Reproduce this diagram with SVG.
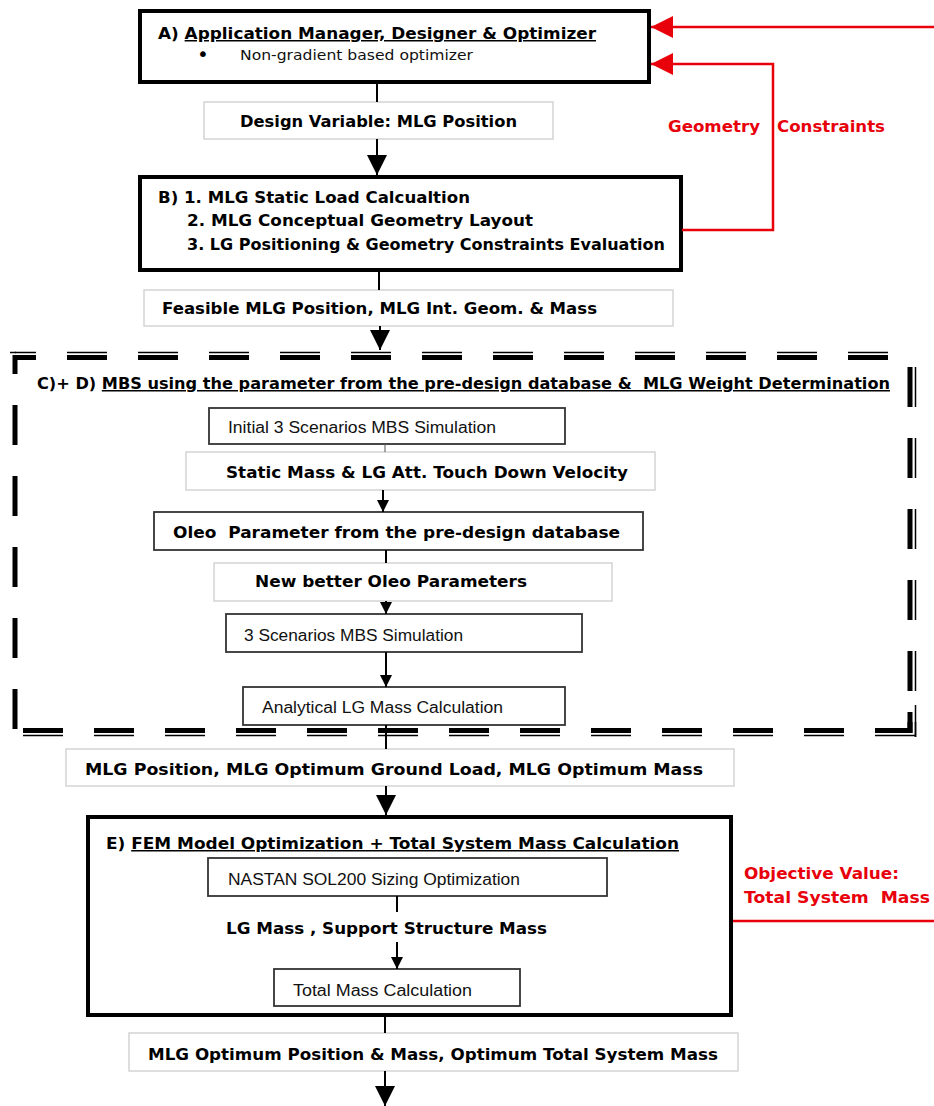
<svg xmlns="http://www.w3.org/2000/svg" width="934" height="1106" viewBox="0 0 934 1106">
<style>
.b{font-family:"DejaVu Sans","Liberation Sans",sans-serif;font-weight:bold;font-size:15px;fill:#000}
.r{font-family:"Liberation Sans","DejaVu Sans",sans-serif;font-size:16px;fill:#111}
.red{fill:#e8000b}
.thick{fill:#fff;stroke:#000;stroke-width:4}
.light{fill:#fff;stroke:#d4d4d4;stroke-width:1.5}
.dark{fill:#fff;stroke:#333;stroke-width:1.8}
.con{stroke:#000;stroke-width:2;fill:none}
.rcon{stroke:#e8000b;stroke-width:2.5;fill:none}
.dT{stroke:#000;stroke-width:5;stroke-dasharray:40 31;fill:none}
.dt{stroke:#000;stroke-width:1.5;stroke-dasharray:40 31;fill:none}
</style>
<defs>
<marker id="big" markerUnits="userSpaceOnUse" markerWidth="20" markerHeight="20" refX="20" refY="10" orient="auto"><path d="M0,0 L20,10 L0,20 z" fill="#000"/></marker>
<marker id="sm" markerUnits="userSpaceOnUse" markerWidth="12" markerHeight="12" refX="12" refY="6" orient="auto"><path d="M0,0 L12,6 L0,12 z" fill="#000"/></marker>
<marker id="rarr" markerUnits="userSpaceOnUse" markerWidth="22" markerHeight="22" refX="22" refY="11" orient="auto"><path d="M0,0 L22,11 L0,22 z" fill="#e8000b"/></marker>
</defs>
<rect width="934" height="1106" fill="#fff"/>

<g id="dashed-frame">
<line class="dT" x1="15" y1="357.5" x2="910" y2="357.5" stroke-dashoffset="19"/>
<line class="dt" x1="15" y1="352.5" x2="916" y2="352.5" stroke-dashoffset="19"/>
<line stroke="#000" stroke-width="1.5" x1="10" y1="352.5" x2="16" y2="352.5"/>
<line class="dT" x1="15" y1="730.5" x2="910" y2="730.5" stroke-dashoffset="63"/>
<line class="dt" x1="15" y1="735.5" x2="916" y2="735.5" stroke-dashoffset="63"/>
<line class="dT" x1="15" y1="355" x2="15" y2="733" stroke-dashoffset="21"/>
<line class="dT" x1="910" y1="357" x2="910" y2="733" stroke-dashoffset="61"/>
<line class="dt" x1="915.5" y1="357" x2="915.5" y2="737" stroke-dashoffset="61"/>
<line stroke="#000" stroke-width="5" x1="910" y1="712" x2="910" y2="733"/>
<line stroke="#000" stroke-width="1.5" x1="915.5" y1="705" x2="915.5" y2="737"/>
<text class="b" x="37" y="389" textLength="853" lengthAdjust="spacingAndGlyphs" xml:space="preserve">C)+ D) <tspan text-decoration="underline">MBS using the parameter from the pre-design database &amp;  MLG Weight Determination</tspan></text>
</g>

<g id="node-A">
<rect class="thick" x="140" y="11" width="509" height="71"/>
<text class="b" x="158" y="39" textLength="438" lengthAdjust="spacingAndGlyphs">A) <tspan text-decoration="underline">Application Manager, Designer &amp; Optimizer</tspan></text>
<text x="197" y="61" font-family="DejaVu Sans,sans-serif" font-size="20">•</text>
<text x="240" y="60" font-family="DejaVu Sans,sans-serif" font-size="14" fill="#111" textLength="233" lengthAdjust="spacingAndGlyphs">Non-gradient based optimizer</text>
</g>

<g id="node-design-variable">
<rect class="light" x="204" y="102" width="349" height="37"/>
<text class="b" x="240" y="127" textLength="277" lengthAdjust="spacingAndGlyphs">Design Variable: MLG Position</text>
</g>

<g id="node-B">
<rect class="thick" x="140" y="177" width="541" height="93"/>
<text class="b" font-size="16" x="158" y="203" textLength="312" lengthAdjust="spacingAndGlyphs">B) 1. MLG Static Load Calcualtion</text>
<text class="b" font-size="16" x="187" y="226" textLength="346" lengthAdjust="spacingAndGlyphs">2. MLG Conceptual Geometry Layout</text>
<text class="b" font-size="16" x="187" y="250" textLength="478" lengthAdjust="spacingAndGlyphs">3. LG Positioning &amp; Geometry Constraints Evaluation</text>
</g>

<g id="node-feasible">
<rect class="light" x="144" y="290" width="529" height="36"/>
<text class="b" x="162" y="314" textLength="435" lengthAdjust="spacingAndGlyphs">Feasible MLG Position, MLG Int. Geom. &amp; Mass</text>
</g>

<g id="node-initial-mbs">
<rect class="dark" x="209" y="408" width="356" height="36"/>
<text class="r" x="228" y="433" textLength="268" lengthAdjust="spacingAndGlyphs">Initial 3 Scenarios MBS Simulation</text>
</g>

<g id="node-static-mass">
<rect class="light" x="186" y="452" width="469" height="38"/>
<text class="b" x="226" y="478" textLength="402" lengthAdjust="spacingAndGlyphs">Static Mass &amp; LG Att. Touch Down Velocity</text>
</g>

<g id="node-oleo">
<rect class="dark" x="154" y="512" width="489" height="38"/>
<text class="b" font-size="16" x="173" y="538" textLength="447" lengthAdjust="spacingAndGlyphs" xml:space="preserve">Oleo  Parameter from the pre-design database</text>
</g>

<g id="node-new-oleo">
<rect class="light" x="214" y="563" width="398" height="38"/>
<text class="b" x="255" y="587" textLength="272" lengthAdjust="spacingAndGlyphs">New better Oleo Parameters</text>
</g>

<g id="node-3-scenarios">
<rect class="dark" x="226" y="614" width="356" height="38"/>
<text class="r" x="244" y="641" textLength="219" lengthAdjust="spacingAndGlyphs">3 Scenarios MBS Simulation</text>
</g>

<g id="node-analytical">
<rect class="dark" x="243" y="687" width="322" height="38"/>
<text class="r" x="262" y="713" textLength="241" lengthAdjust="spacingAndGlyphs">Analytical LG Mass Calculation</text>
</g>

<g id="node-mlg-position">
<rect class="light" x="66" y="749" width="668" height="37"/>
<text class="b" x="85" y="775" textLength="618" lengthAdjust="spacingAndGlyphs">MLG Position, MLG Optimum Ground Load, MLG Optimum Mass</text>
</g>

<g id="node-E">
<rect class="thick" x="88" y="817" width="643" height="198"/>
<text class="b" x="106" y="849" textLength="573" lengthAdjust="spacingAndGlyphs">E) <tspan text-decoration="underline">FEM Model Optimization + Total System Mass Calculation</tspan></text>
</g>

<g id="node-nastran">
<rect class="dark" x="208" y="858" width="399" height="38"/>
<text class="r" x="228" y="885" textLength="292" lengthAdjust="spacingAndGlyphs">NASTAN SOL200 Sizing Optimization</text>
</g>

<g id="node-lg-mass">
<text class="b" x="226" y="934" textLength="321" lengthAdjust="spacingAndGlyphs">LG Mass , Support Structure Mass</text>
</g>

<g id="node-total-mass">
<rect class="dark" x="274" y="969" width="246" height="37"/>
<text class="r" x="293" y="996" textLength="179" lengthAdjust="spacingAndGlyphs">Total Mass Calculation</text>
</g>

<g id="node-final">
<rect class="light" x="129" y="1033" width="609" height="38"/>
<text class="b" x="148" y="1060" textLength="570" lengthAdjust="spacingAndGlyphs">MLG Optimum Position &amp; Mass, Optimum Total System Mass</text>
</g>

<g id="node-geometry-label">
<text class="b red" font-size="16" y="132"><tspan x="668" textLength="92" lengthAdjust="spacingAndGlyphs">Geometry</tspan><tspan x="777" textLength="108" lengthAdjust="spacingAndGlyphs">Constraints</tspan></text>
</g>

<g id="node-objective-label">
<text class="b red" x="744" y="879" textLength="155" lengthAdjust="spacingAndGlyphs">Objective Value:</text>
<text class="b red" x="744" y="903" textLength="186" lengthAdjust="spacingAndGlyphs" xml:space="preserve">Total System  Mass</text>
</g>

<g id="connectors">
<line class="con" x1="377" y1="83" x2="377" y2="102"/>
<line class="con" x1="377" y1="139" x2="377" y2="175" marker-end="url(#big)"/>
<line class="con" x1="379" y1="272" x2="379" y2="290"/>
<line class="con" x1="380" y1="326" x2="380" y2="350" marker-end="url(#big)"/>
<line stroke="#555" stroke-width="1" x1="385" y1="444" x2="385" y2="452"/>
<line class="con" x1="383" y1="490" x2="383" y2="512" marker-end="url(#sm)"/>
<line class="con" x1="386" y1="550" x2="386" y2="563"/>
<line class="con" x1="386" y1="601" x2="386" y2="614" marker-end="url(#sm)"/>
<line class="con" x1="386" y1="652" x2="386" y2="687" marker-end="url(#sm)"/>
<line class="con" x1="386" y1="725" x2="386" y2="749"/>
<line class="con" x1="386" y1="786" x2="386" y2="815" marker-end="url(#big)"/>
<line class="con" x1="397" y1="896" x2="397" y2="912"/>
<line class="con" x1="397" y1="942" x2="397" y2="969" marker-end="url(#sm)"/>
<line class="con" x1="385" y1="1017" x2="385" y2="1033"/>
<line class="con" x1="385" y1="1071" x2="385" y2="1106" marker-end="url(#big)"/>
<line class="rcon" x1="934" y1="27" x2="651" y2="27" marker-end="url(#rarr)"/>
<polyline class="rcon" points="682,230 773,230 773,64 651,64" marker-end="url(#rarr)"/>
<line class="rcon" x1="733" y1="921" x2="934" y2="921"/>
</g>
</svg>
